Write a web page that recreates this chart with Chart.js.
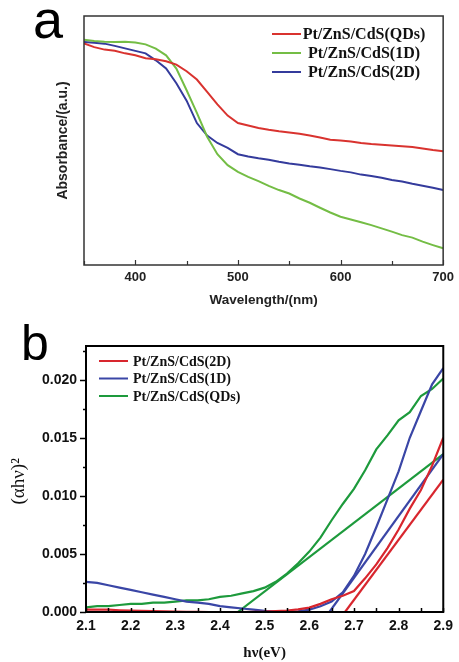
<!DOCTYPE html>
<html><head><meta charset="utf-8">
<script src="https://cdn.jsdelivr.net/npm/chart.js@4.4.0/dist/chart.umd.min.js"></script>
<style>
html,body{margin:0;padding:0;background:#fff;}
#wrap{position:relative;width:459px;height:662px;overflow:hidden;}
#chartA{position:absolute;left:0;top:0;}
#chartB{position:absolute;left:0;top:310px;}
</style></head><body>
<div id="wrap">
<canvas id="chartA" width="459" height="310"></canvas>
<canvas id="chartB" width="459" height="352"></canvas>
</div>
<script>
// ---------- Panel a: UV-vis absorbance ----------
const wavelength = [350,360,370,380,390,400,410,420,430,440,450,460,470,480,490,500,510,520,530,540,550,560,570,580,590,600,610,620,630,640,650,660,670,680,690,700];
const absQDs = [0.890,0.875,0.865,0.860,0.850,0.842,0.830,0.826,0.818,0.805,0.778,0.745,0.695,0.645,0.600,0.570,0.560,0.550,0.543,0.537,0.532,0.527,0.520,0.512,0.503,0.500,0.496,0.490,0.486,0.483,0.480,0.477,0.474,0.468,0.462,0.457];
const abs1D  = [0.905,0.900,0.897,0.896,0.897,0.894,0.886,0.869,0.842,0.789,0.702,0.611,0.515,0.445,0.401,0.374,0.354,0.337,0.318,0.301,0.287,0.267,0.250,0.230,0.211,0.194,0.183,0.172,0.160,0.147,0.134,0.120,0.110,0.094,0.080,0.067];
const abs2D  = [0.896,0.893,0.889,0.880,0.870,0.860,0.850,0.822,0.789,0.730,0.660,0.570,0.520,0.490,0.470,0.445,0.436,0.429,0.423,0.415,0.408,0.403,0.397,0.392,0.385,0.378,0.372,0.363,0.357,0.350,0.341,0.335,0.326,0.318,0.310,0.301];
const aSeriesNames = ['Pt/ZnS/CdS(QDs)','Pt/ZnS/CdS(1D)','Pt/ZnS/CdS(2D)'];
const aTickLabels = [400,500,600,700];
const aMinorTicks = [350,450,550,650];

// ---------- Panel b: Tauc plot ----------
const energy = [2.100,2.125,2.150,2.175,2.200,2.225,2.250,2.275,2.300,2.325,2.350,2.375,2.400,2.425,2.450,2.475,2.500,2.525,2.550,2.575,2.600,2.625,2.650,2.675,2.700,2.725,2.750,2.775,2.800,2.825,2.850,2.875,2.900];
const tauc2D  = [0.0002,0.0002,0.0002,0.00015,0.00012,0.0001,0.00008,0.00005,0.00003,0.00002,0.00001,0,0,0,0,0.00001,0.00003,0.00008,0.00013,0.00022,0.00038,0.0007,0.0011,0.0014,0.0018,0.0029,0.0041,0.0055,0.0071,0.0089,0.0105,0.0126,0.0150];
const tauc1D  = [0.0026,0.0025,0.0023,0.0021,0.0019,0.0017,0.0015,0.0013,0.0011,0.0009,0.0008,0.0007,0.0005,0.0004,0.0003,0.0002,0.0001,0.00003,0,0.00005,0.0002,0.0005,0.0009,0.0017,0.0031,0.0050,0.0073,0.0097,0.0121,0.0150,0.0173,0.0196,0.0210];
const taucQDs = [0.0004,0.0005,0.0005,0.0006,0.0007,0.0007,0.0008,0.0008,0.0009,0.0010,0.0010,0.0011,0.0013,0.0014,0.0016,0.0018,0.0021,0.0026,0.0033,0.0042,0.0052,0.0064,0.0079,0.0093,0.0106,0.0122,0.0140,0.0152,0.0165,0.0172,0.0186,0.0192,0.0201];
const fit2D_x = [2.68, 2.90],  fit2D_y = [0, 0.0114];
const fit1D_x = [2.645, 2.90], fit1D_y = [0, 0.0136];
const fitQDs_x = [2.44, 2.90], fitQDs_y = [0, 0.0136];
const bSeriesNames = ['Pt/ZnS/CdS(2D)','Pt/ZnS/CdS(1D)','Pt/ZnS/CdS(QDs)'];
const bTickLabelsY = [0, 0.005, 0.010, 0.015, 0.020];
const bMinorTicksY = [0.0025, 0.0075, 0.0125, 0.0175, 0.0225];
const bTickLabelsX = [2.1,2.2,2.3,2.4,2.5,2.6,2.7,2.8,2.9];
const bMinorTicksX = [2.15,2.25,2.35,2.45,2.55,2.65,2.75,2.85];

const pts = (xs, ys) => xs.map((x, i) => ({x: x, y: ys[i]}));

const SANS = '"Liberation Sans", Arial, sans-serif';
const SERIF = '"Liberation Serif", "Times New Roman", serif';

const decor = {
  id: 'decor',
  afterDatasetsDraw(chart, args, o) {
    const ctx = chart.ctx, a = chart.chartArea;
    const xs = chart.scales.x, ys = chart.scales.y;
    ctx.save();
    ctx.strokeStyle = o.frameColor;
    ctx.lineWidth = o.tickWidth;
    (o.xTicks || []).forEach(t => {
      const px = Math.round(xs.getPixelForValue(t[0])) + 0.5;
      ctx.beginPath(); ctx.moveTo(px, a.bottom); ctx.lineTo(px, a.bottom + o.xDir * t[1]); ctx.stroke();
    });
    (o.yTicks || []).forEach(t => {
      const py = Math.round(ys.getPixelForValue(t[0])) + 0.5;
      ctx.beginPath(); ctx.moveTo(a.left, py); ctx.lineTo(a.left + o.yDir * t[1], py); ctx.stroke();
    });
    ctx.lineWidth = o.frameWidth;
    ctx.strokeRect(a.left, a.top, a.right - a.left, a.bottom - a.top);
    // legend
    const L = o.legend;
    let row = 0;
    chart.data.datasets.forEach(ds => {
      if (!ds.inLegend) return;
      const y = L.y + row * L.dy;
      ctx.strokeStyle = ds.borderColor; ctx.lineWidth = 2;
      ctx.beginPath(); ctx.moveTo(L.x0, y); ctx.lineTo(L.x1, y); ctx.stroke();
      ctx.fillStyle = '#111';
      ctx.font = L.font;
      ctx.textBaseline = 'middle';
      ctx.textAlign = L.align;
      ctx.fillText(ds.label, L.tx, y + 1);
      row++;
    });
    // panel label
    ctx.fillStyle = '#000';
    ctx.textAlign = 'left'; ctx.textBaseline = 'alphabetic';
    ctx.font = o.panel.font;
    ctx.fillText(o.panel.text, o.panel.x, o.panel.y);
    ctx.restore();
  }
};

// ---------- Chart a ----------
new Chart(document.getElementById('chartA'), {
  type: 'scatter',
  data: {
    datasets: [
      {label: aSeriesNames[0], data: pts(wavelength, absQDs), borderColor: '#d9332f', inLegend: true},
      {label: aSeriesNames[1], data: pts(wavelength, abs1D), borderColor: '#74bd45', inLegend: true},
      {label: aSeriesNames[2], data: pts(wavelength, abs2D), borderColor: '#343b9c', inLegend: true}
    ].map(d => Object.assign(d, {showLine: true, pointRadius: 0, borderWidth: 2, tension: 0, fill: false}))
  },
  options: {
    responsive: false, animation: false, devicePixelRatio: 1,
    layout: {padding: {left: 0, right: 14, top: 16, bottom: 0}},
    plugins: {
      legend: {display: false}, tooltip: {enabled: false},
      decor: {
        frameColor: '#333', frameWidth: 1.5, tickWidth: 1.2,
        xTicks: aTickLabels.map(v => [v, 5]).concat(aMinorTicks.map(v => [v, 4])), xDir: -1,
        yTicks: [], yDir: 1,
        legend: {x0: 272, x1: 301, tx: 364, y: 34, dy: 19, align: 'center', font: 'bold 16px ' + SERIF},
        panel: {text: 'a', x: 33, y: 38, font: '54px ' + SANS}
      }
    },
    scales: {
      x: {
        type: 'linear', min: 350, max: 700,
        afterBuildTicks: s => { s.ticks = aTickLabels.map(v => ({value: v})); },
        afterFit: s => { s.height = 45; },
        grid: {display: false, drawTicks: false}, border: {display: false},
        ticks: {padding: 5, color: '#222', font: {family: SANS, size: 13, weight: 'bold'}},
        title: {display: true, text: 'Wavelength/(nm)', color: '#222', padding: {top: 0, bottom: 2}, font: {family: SANS, size: 13.5, weight: 'bold'}}
      },
      y: {
        type: 'linear', min: 0, max: 1,
        afterFit: s => { s.width = 84; },
        grid: {display: false, drawTicks: false}, border: {display: false},
        ticks: {display: false},
        title: {display: true, text: 'Absorbance/(a.u.)', color: '#222', padding: {top: 54.6, bottom: 0}, font: {family: SANS, size: 14, weight: 'bold'}}
      }
    }
  },
  plugins: [decor]
});

// ---------- Chart b ----------
new Chart(document.getElementById('chartB'), {
  type: 'scatter',
  data: {
    datasets: [
      {label: bSeriesNames[0], data: pts(energy, tauc2D), borderColor: '#d8262e', inLegend: true},
      {label: bSeriesNames[1], data: pts(energy, tauc1D), borderColor: '#3a46a6', inLegend: true},
      {label: bSeriesNames[2], data: pts(energy, taucQDs), borderColor: '#1d9a3c', inLegend: true},
      {label: 'fit 2D', data: pts(fit2D_x, fit2D_y), borderColor: '#d8262e'},
      {label: 'fit 1D', data: pts(fit1D_x, fit1D_y), borderColor: '#3a46a6'},
      {label: 'fit QDs', data: pts(fitQDs_x, fitQDs_y), borderColor: '#1d9a3c'}
    ].map(d => Object.assign(d, {showLine: true, pointRadius: 0, borderWidth: 2.2, tension: 0, fill: false}))
  },
  options: {
    responsive: false, animation: false, devicePixelRatio: 1,
    layout: {padding: {left: 0, right: 11, top: 36, bottom: 0}},
    plugins: {
      legend: {display: false}, tooltip: {enabled: false},
      decor: {
        frameColor: '#000', frameWidth: 2, tickWidth: 1.5,
        xTicks: bTickLabelsX.map(v => [v, 4]).concat(bMinorTicksX.map(v => [v, 4])), xDir: -1,
        yTicks: bTickLabelsY.map(v => [v, 6]).concat(bMinorTicksY.map(v => [v, 3])), yDir: -1,
        legend: {x0: 99, x1: 128, tx: 133, y: 51, dy: 17.5, align: 'left', font: 'bold 14px ' + SERIF},
        panel: {text: 'b', x: 21, y: 50, font: '50px ' + SANS}
      }
    },
    scales: {
      x: {
        type: 'linear', min: 2.1, max: 2.9,
        afterBuildTicks: s => { s.ticks = bTickLabelsX.map(v => ({value: v})); },
        afterFit: s => { s.height = 50; },
        grid: {display: false, drawTicks: false}, border: {display: false},
        ticks: {padding: 6, color: '#111', font: {family: SANS, size: 14, weight: 'bold'}, callback: v => v.toFixed(1)},
        title: {display: true, text: 'hν(eV)', color: '#111', padding: {top: 0, bottom: 0}, font: {family: SERIF, size: 15, weight: 'bold'}}
      },
      y: {
        type: 'linear', min: 0, max: 0.0229,
        afterBuildTicks: s => { s.ticks = bTickLabelsY.map(v => ({value: v})); },
        afterFit: s => { s.width = 86; },
        grid: {display: false, drawTicks: false}, border: {display: false},
        ticks: {padding: 9, color: '#111', font: {family: SANS, size: 14, weight: 'bold'}, callback: v => v.toFixed(3)},
        title: {display: true, text: '(αhν)² ', color: '#111', padding: {top: 8, bottom: 0}, font: {family: SERIF, size: 19}}
      }
    }
  },
  plugins: [decor]
});
</script>
</body></html>
